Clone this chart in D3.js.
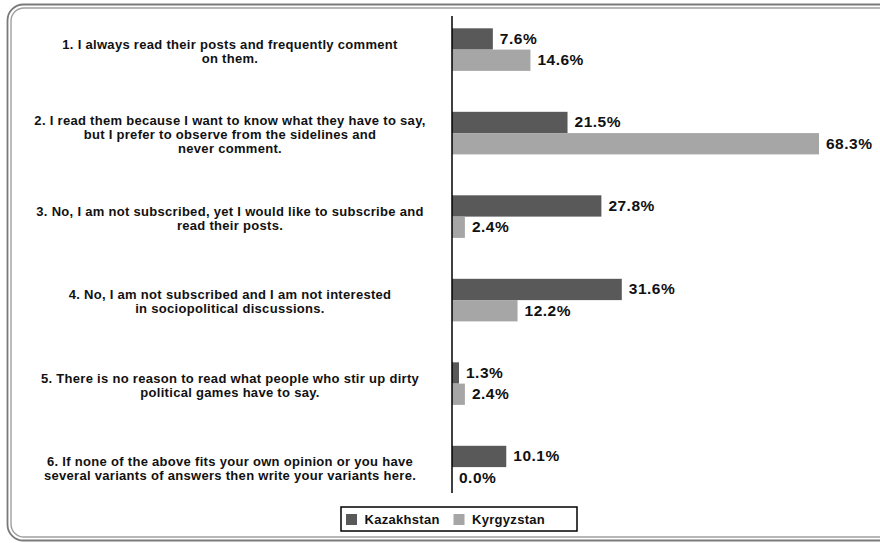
<!DOCTYPE html>
<html>
<head>
<meta charset="utf-8">
<script src="https://cdn.jsdelivr.net/npm/d3@7"></script>
<style>
  html, body { margin: 0; padding: 0; background: #fff; }
  svg { display: block; font-family: "Liberation Sans", Arial, sans-serif; }
</style>
</head>
<body>
<svg id="chart" width="880" height="543"></svg>
<script>
// Survey answers (one entry per line of the wrapped label)
const categories = [
  ["1. I always read their posts and frequently comment", "on them."],
  ["2. I read them because I want to know what they have to say,", "but I prefer to observe from the sidelines and", "never comment."],
  ["3. No, I am not subscribed, yet I would like to subscribe and", "read their posts."],
  ["4. No, I am not subscribed and I am not interested", "in sociopolitical discussions."],
  ["5. There is no reason to read what people who stir up dirty", "political games have to say."],
  ["6. If none of the above fits your own opinion or you have", "several variants of answers then write your variants here."]
];
const seriesNames = ["Kazakhstan", "Kyrgyzstan"];
const kazakhstan = [7.6, 21.5, 27.8, 31.6, 1.3, 10.1];
const kyrgyzstan = [14.6, 68.3, 2.4, 12.2, 2.4, 0.0];
const seriesColors = ["#595959", "#a6a6a6"];

const svg = d3.select("#chart");
const textColor = "#111";

// Rounded double frame around the whole chart (right side runs off the page)
const frame = svg.append("g");
frame.append("rect")
  .attr("x", 7.5).attr("y", 4.5).attr("width", 920).attr("height", 536)
  .attr("rx", 16).attr("ry", 16)
  .attr("fill", "none").attr("stroke", "#7a7a7a").attr("stroke-width", 1.8);
frame.append("rect")
  .attr("x", 11).attr("y", 8).attr("width", 912).attr("height", 529)
  .attr("rx", 13).attr("ry", 13)
  .attr("fill", "none").attr("stroke", "#a0a0a0").attr("stroke-width", 1.4);

// Scales
const axisX = 452;
const x = d3.scaleLinear().domain([0, 68.3]).range([axisX, 819]);
const y = d3.scaleBand()
  .domain(d3.range(categories.length))
  .range([7.85, 508.85])
  .paddingInner(0.49)
  .paddingOuter(0.245);
const ySub = d3.scaleBand().domain([0, 1]).range([0, y.bandwidth()]);

const rows = categories.map((lines, i) => ({
  i, lines, values: [kazakhstan[i], kyrgyzstan[i]]
}));

// Bars
const groups = svg.append("g").selectAll("g.group")
  .data(rows).join("g")
  .attr("class", "group")
  .attr("transform", d => `translate(0,${y(d.i)})`);

groups.selectAll("rect")
  .data(d => d.values.map((v, s) => ({ v, s })))
  .join("rect")
  .attr("x", x(0))
  .attr("y", d => ySub(d.s))
  .attr("width", d => x(d.v) - x(0))
  .attr("height", ySub.bandwidth())
  .attr("fill", d => seriesColors[d.s]);

// Value labels
groups.selectAll("text.value")
  .data(d => d.values.map((v, s) => ({ v, s })))
  .join("text")
  .attr("class", "value")
  .attr("x", d => x(d.v) + 7)
  .attr("y", d => ySub(d.s) + ySub.bandwidth() / 2 + 5)
  .attr("font-size", 15.5)
  .attr("font-weight", "bold")
  .attr("letter-spacing", 0.5)
  .attr("fill", textColor)
  .text(d => d.v.toFixed(1) + "%");

// Category labels, centred on their bar pair
const lineH = 13.8;
const labelX = 230;
svg.append("g").selectAll("text.cat")
  .data(rows).join("text")
  .attr("class", "cat")
  .attr("text-anchor", "middle")
  .attr("font-size", 13)
  .attr("font-weight", "bold")
  .attr("letter-spacing", 0.3)
  .attr("fill", textColor)
  .each(function(d) {
    const cy = y(d.i) + y.bandwidth() / 2 + 4.5 - (d.lines.length - 1) * lineH / 2;
    d3.select(this).selectAll("tspan")
      .data(d.lines).join("tspan")
      .attr("x", labelX)
      .attr("y", (l, k) => cy + k * lineH + 1.5)
      .text(l => l);
  });

// Category axis line
svg.append("line")
  .attr("x1", axisX).attr("x2", axisX)
  .attr("y1", 16).attr("y2", 493)
  .attr("stroke", "#000").attr("stroke-width", 1.5);

// Legend
const legend = svg.append("g").attr("transform", "translate(341,507)");
legend.append("rect")
  .attr("width", 236).attr("height", 24)
  .attr("fill", "#fff").attr("stroke", "#000").attr("stroke-width", 1.5);
const legendOffsets = [5, 112.5];
const items = legend.selectAll("g.item")
  .data(seriesNames).join("g")
  .attr("class", "item")
  .attr("transform", (d, i) => `translate(${legendOffsets[i]},7)`);
items.append("rect")
  .attr("width", 11).attr("height", 11)
  .attr("fill", (d, i) => seriesColors[i]);
items.append("text")
  .attr("x", 18.5).attr("y", 9.5)
  .attr("font-size", 13)
  .attr("font-weight", "bold")
  .attr("letter-spacing", 0.3)
  .attr("fill", textColor)
  .text(d => d);
</script>
</body>
</html>
